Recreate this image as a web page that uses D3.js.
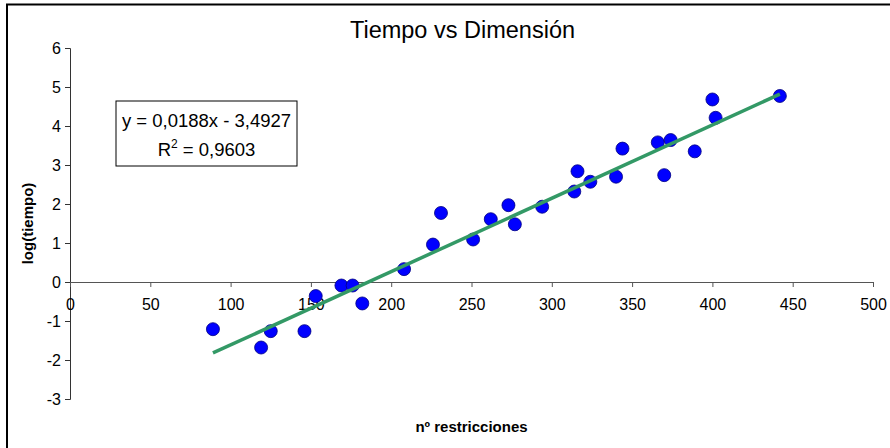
<!DOCTYPE html>
<html>
<head>
<meta charset="utf-8">
<script src="https://cdn.jsdelivr.net/npm/d3@7"></script>
<style>
  html, body { margin: 0; padding: 0; background: #fff; }
  svg { display: block; font-family: "Liberation Sans", Arial, sans-serif; }
</style>
</head>
<body>
<svg id="chart" width="890" height="448"></svg>
<script>
// ---- data ----
const restricciones = [89, 119, 125, 146, 153, 169, 176, 182, 208, 226, 231, 251, 262, 273, 277, 294, 314, 316, 324, 340, 344, 366, 370, 374, 389, 400, 402, 442];
const logTiempo     = [-1.21, -1.68, -1.26, -1.26, -0.36, -0.09, -0.09, -0.55, 0.33, 0.96, 1.77, 1.09, 1.61, 1.97, 1.48, 1.93, 2.32, 2.84, 2.57, 2.70, 3.42, 3.58, 2.74, 3.64, 3.35, 4.68, 4.21, 4.77];
const trendSlope = 0.0188;
const trendIntercept = -3.4927;
const rSquared = "0,9603";
const xTicks = [0, 50, 100, 150, 200, 250, 300, 350, 400, 450, 500];
const yTicks = [-3, -2, -1, 0, 1, 2, 3, 4, 5, 6];
const titleText = "Tiempo vs Dimensión";
const xTitle = "nº restricciones";
const yTitle = "log(tiempo)";

const points = restricciones.map((x, i) => ({ x, y: logTiempo[i] }));

const svg = d3.select("#chart");

// outer chart border (extends beyond the visible window on right/bottom)
svg.append("rect")
  .attr("x", 7).attr("y", 4.5)
  .attr("width", 920).attr("height", 470)
  .attr("fill", "#fff")
  .attr("stroke", "#000").attr("stroke-width", 2);

const x = d3.scaleLinear().domain([0, 500]).range([70, 873]);
const y = d3.scaleLinear().domain([-3, 6]).range([399, 48]);

// title
svg.append("text")
  .attr("x", 462.5).attr("y", 38)
  .attr("text-anchor", "middle")
  .attr("font-size", 23.5)
  .attr("fill", "#000")
  .text(titleText);

// y axis
const yAxis = d3.axisLeft(y).tickValues(yTicks).tickSize(5).tickPadding(4).tickFormat(d3.format("d"));
const gy = svg.append("g").attr("transform", `translate(${x(0)},0)`).call(yAxis);
gy.select(".domain").attr("stroke", "#333");
gy.selectAll(".tick line").attr("stroke", "#333");
gy.selectAll(".tick text")
  .attr("font-size", 16).attr("fill", "#000")
  .attr("font-family", "Liberation Sans, Arial, sans-serif")
  .text(d => d < 0 ? "-" + Math.abs(d) : d);

// x axis at y = 0
const xAxis = d3.axisBottom(x).tickValues(xTicks).tickSize(5).tickPadding(12).tickFormat(d3.format("d"));
const gx = svg.append("g").attr("transform", `translate(0,${y(0)})`).call(xAxis);
gx.select(".domain").attr("stroke", "#555");
gx.selectAll(".tick line").attr("stroke", "#555");
gx.selectAll(".tick text")
  .attr("font-size", 16).attr("fill", "#000")
  .attr("font-family", "Liberation Sans, Arial, sans-serif");

// axis titles
svg.append("text")
  .attr("x", 471.5).attr("y", 432)
  .attr("text-anchor", "middle")
  .attr("font-size", 15).attr("font-weight", "bold")
  .text(xTitle);

svg.append("text")
  .attr("transform", `translate(33,${(y(6) + y(-3)) / 2}) rotate(-90)`)
  .attr("text-anchor", "middle")
  .attr("font-size", 15).attr("font-weight", "bold")
  .text(yTitle);

// data points
svg.append("g").selectAll("circle")
  .data(points)
  .join("circle")
  .attr("cx", d => x(d.x))
  .attr("cy", d => y(d.y))
  .attr("r", 6.5)
  .attr("fill", "#0000ff")
  .attr("stroke", "#000080")
  .attr("stroke-width", 0.8);

// trend line
const xMin = d3.min(restricciones), xMax = d3.max(restricciones);
const trend = [xMin, xMax].map(v => ({ x: v, y: trendSlope * v + trendIntercept }));
svg.append("path")
  .datum(trend)
  .attr("d", d3.line().x(d => x(d.x)).y(d => y(d.y)))
  .attr("fill", "none")
  .attr("stroke", "#339966")
  .attr("stroke-width", 3.5);

// equation box
const box = svg.append("g");
box.append("rect")
  .attr("x", 116).attr("y", 101)
  .attr("width", 181).attr("height", 65)
  .attr("fill", "#fff").attr("stroke", "#000").attr("stroke-width", 1);
box.append("text")
  .attr("x", 206.5).attr("y", 127)
  .attr("text-anchor", "middle")
  .attr("font-size", 18.5)
  .text(`y = ${String(trendSlope).replace(".", ",")}x - ${String(Math.abs(trendIntercept)).replace(".", ",")}`);
const r2 = box.append("text")
  .attr("x", 206.5).attr("y", 156)
  .attr("text-anchor", "middle")
  .attr("font-size", 18.5);
r2.append("tspan").text("R");
r2.append("tspan").attr("dy", -8).attr("font-size", 12).text("2");
r2.append("tspan").attr("dy", 8).text(" = " + rSquared);
</script>
</body>
</html>
